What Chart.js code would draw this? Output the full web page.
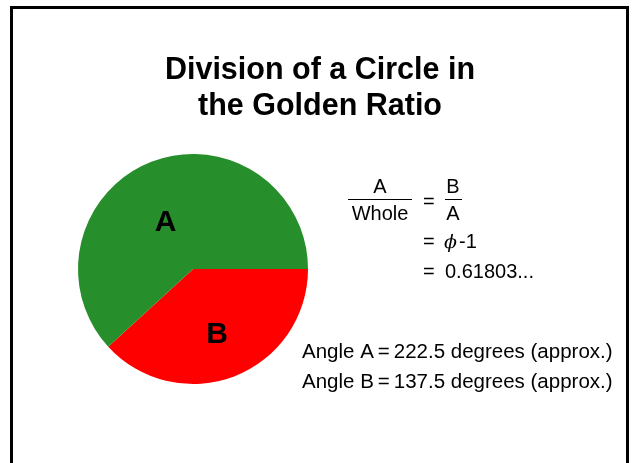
<!DOCTYPE html>
<html>
<head>
<meta charset="utf-8">
<script src="https://cdn.jsdelivr.net/npm/chart.js@4.4.1/dist/chart.umd.min.js"></script>
<style>
	html, body { margin: 0; padding: 0; background: #fff; }
	#wrap { position: relative; width: 634px; height: 463px; }
</style>
</head>
<body>
<div id="wrap">
	<canvas id="golden" width="634" height="463"></canvas>
</div>
<script type="text/javascript">
	// data
	var sliceLabels = ['B', 'A'];
	var sliceAngles = [137.5, 222.5];
	var sliceColors = ['#ff0000', '#268e2a'];
	var titleLines = ['Division of a Circle in', 'the Golden Ratio'];
	var angleLines = [
		['Angle A', '222.5 degrees (approx.)'],
		['Angle B', '137.5 degrees (approx.)']
	];
	var ratioValue = '0.61803...';

	var FONT = '"Liberation Sans", Arial, sans-serif';

	// draws the frame, title, slice letters and the formula block
	var slideText = {
		id: 'slideText',
		afterDraw: function(chart) {
			var ctx = chart.ctx;
			ctx.save();

			// frame
			ctx.strokeStyle = '#000';
			ctx.lineWidth = 3;
			ctx.beginPath();
			ctx.moveTo(11.5, 470);
			ctx.lineTo(11.5, 7.5);
			ctx.lineTo(627.5, 7.5);
			ctx.lineTo(627.5, 470);
			ctx.stroke();

			ctx.fillStyle = '#000';
			ctx.textAlign = 'center';
			ctx.textBaseline = 'alphabetic';

			// title
			ctx.font = 'bold 30.5px ' + FONT;
			ctx.fillText(titleLines[0], 320, 79);
			ctx.fillText(titleLines[1], 320, 115);

			// slice letters, placed from the arcs
			var meta = chart.getDatasetMeta(0);
			var place = { A: { r: 0.47, shift: -8 }, B: { r: 0.6, shift: 0 } };
			ctx.font = 'bold 30px ' + FONT;
			ctx.textBaseline = 'middle';
			meta.data.forEach(function(arc, i) {
				var p = arc.getProps(['x', 'y', 'startAngle', 'endAngle', 'outerRadius'], true);
				var cfg = place[sliceLabels[i]];
				var mid = (p.startAngle + p.endAngle) / 2 + cfg.shift * Math.PI / 180;
				var r = p.outerRadius * cfg.r;
				ctx.fillText(sliceLabels[i], p.x + Math.cos(mid) * r - 1, p.y + Math.sin(mid) * r + 1);
			});

			// formula
			ctx.font = '20px ' + FONT;
			ctx.textBaseline = 'alphabetic';
			ctx.fillText('A', 380, 193);
			ctx.fillText('Whole', 380, 220);
			ctx.fillText('B', 453, 193);
			ctx.fillText('A', 453, 220);
			ctx.lineWidth = 1;
			ctx.beginPath();
			ctx.moveTo(348, 199.5); ctx.lineTo(412, 199.5);
			ctx.moveTo(445, 199.5); ctx.lineTo(462, 199.5);
			ctx.stroke();

			ctx.textAlign = 'left';
			ctx.fillText('=', 423, 208);
			ctx.fillText('=', 423, 248);
			ctx.fillText('=', 423, 278);
			ctx.font = 'italic 19px "DejaVu Serif", serif';
			ctx.fillText('\u03d5', 444, 248);
			ctx.font = '20px ' + FONT;
			ctx.fillText('-1', 459, 248);
			ctx.fillText(ratioValue, 445, 278);

			// angles
			ctx.font = '20.5px ' + FONT;
			var ys = [358, 388];
			angleLines.forEach(function(l, i) {
				var x = 302;
				ctx.fillText(l[0], x, ys[i]);
				x += ctx.measureText(l[0]).width + 4;
				ctx.fillText('=', x, ys[i]);
				x += ctx.measureText('=').width + 4;
				ctx.fillText(l[1], x, ys[i]);
			});

			ctx.restore();
		}
	};

	var golden = new Chart(document.getElementById('golden').getContext('2d'), {
		type: 'pie',
		data: {
			labels: sliceLabels,
			datasets: [{
				data: sliceAngles,
				backgroundColor: sliceColors,
				borderWidth: 0,
				hoverOffset: 0
			}]
		},
		options: {
			responsive: false,
			animation: false,
			rotation: 90,
			layout: { padding: { left: 78, right: 326, top: 154, bottom: 79 } },
			plugins: {
				legend: { display: false },
				tooltip: { enabled: false },
				title: { display: false }
			},
			events: []
		},
		plugins: [slideText]
	});
</script>
</body>
</html>
